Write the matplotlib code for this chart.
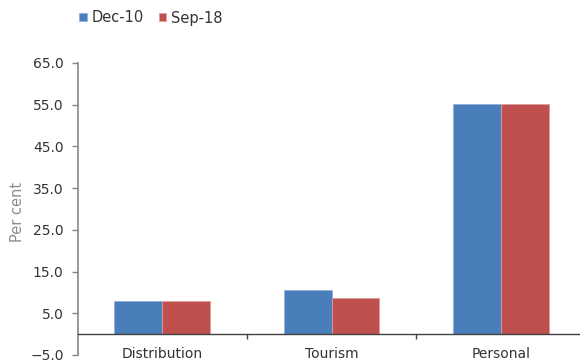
import matplotlib
matplotlib.use("Agg")
import matplotlib.pyplot as plt
import numpy as np
from matplotlib.ticker import FixedLocator, FuncFormatter

categories = ["Distribution", "Tourism", "Personal"]
dec_10 = [7.9, 10.5, 55.2]
sep_18 = [7.9, 8.6, 55.2]
series_names = ["Dec-10", "Sep-18"]
yticks = [-5, 5, 15, 25, 35, 45, 55, 65]

blue = "#4A7EBB"
red = "#C0504D"
axis_grey = "#868686"
text_grey = "#333333"

plt.rcParams["font.family"] = ["DejaVu Sans"]

fig = plt.figure(figsize=(5.8, 3.6), dpi=100)
ax = fig.add_axes([77.5 / 580, 5 / 360, 508 / 580, (355 - 63) / 360])

x = np.arange(len(categories))
w = 0.283
ax.bar(x - w / 2, dec_10, w, color=blue, edgecolor="#8FB0DC", linewidth=0.6,
       label=series_names[0])
ax.bar(x + w / 2, sep_18, w, color=red, edgecolor="#E09C9A", linewidth=0.6,
       label=series_names[1])

ax.set_xlim(-0.5, len(categories) - 0.5)
ax.set_ylim(-5, 65)

# spines: left axis in grey, category axis sitting on zero
for s in ("top", "right"):
    ax.spines[s].set_visible(False)
ax.spines["left"].set_color(axis_grey)
ax.spines["left"].set_linewidth(1.2)
ax.spines["bottom"].set_position(("data", 0))
ax.spines["bottom"].set_color("#404040")
ax.spines["bottom"].set_linewidth(1.0)

ax.yaxis.set_major_locator(FixedLocator(yticks))
ax.yaxis.set_major_formatter(
    FuncFormatter(lambda v, _: f"{v:.1f}".replace("-", "\u2212")))
ax.tick_params(axis="y", direction="out", length=4, width=1, color=axis_grey,
               labelsize=10, labelcolor=text_grey, pad=6)

ax.set_xticks(x)
ax.set_xticklabels(categories)
ax.set_xticks([0.5, 1.5], minor=True)
ax.tick_params(axis="x", which="major", length=0, labelsize=10,
               labelcolor=text_grey, pad=9)
ax.tick_params(axis="x", which="minor", direction="out", length=3.5,
               width=1, color="#404040")

fig.text(17 / 580, (360 - 212) / 360, "Per cent", rotation=90,
         ha="center", va="center", fontsize=10.5, color="#8C8C8C")

fig.legend(loc="center", bbox_to_anchor=(151 / 580, 1 - 18 / 360), ncol=2,
           frameon=False, fontsize=10.5, handlelength=0.5, handleheight=0.5,
           handletextpad=0.35, columnspacing=1.0, labelcolor=text_grey)

fig.savefig("out.png", dpi=100)
